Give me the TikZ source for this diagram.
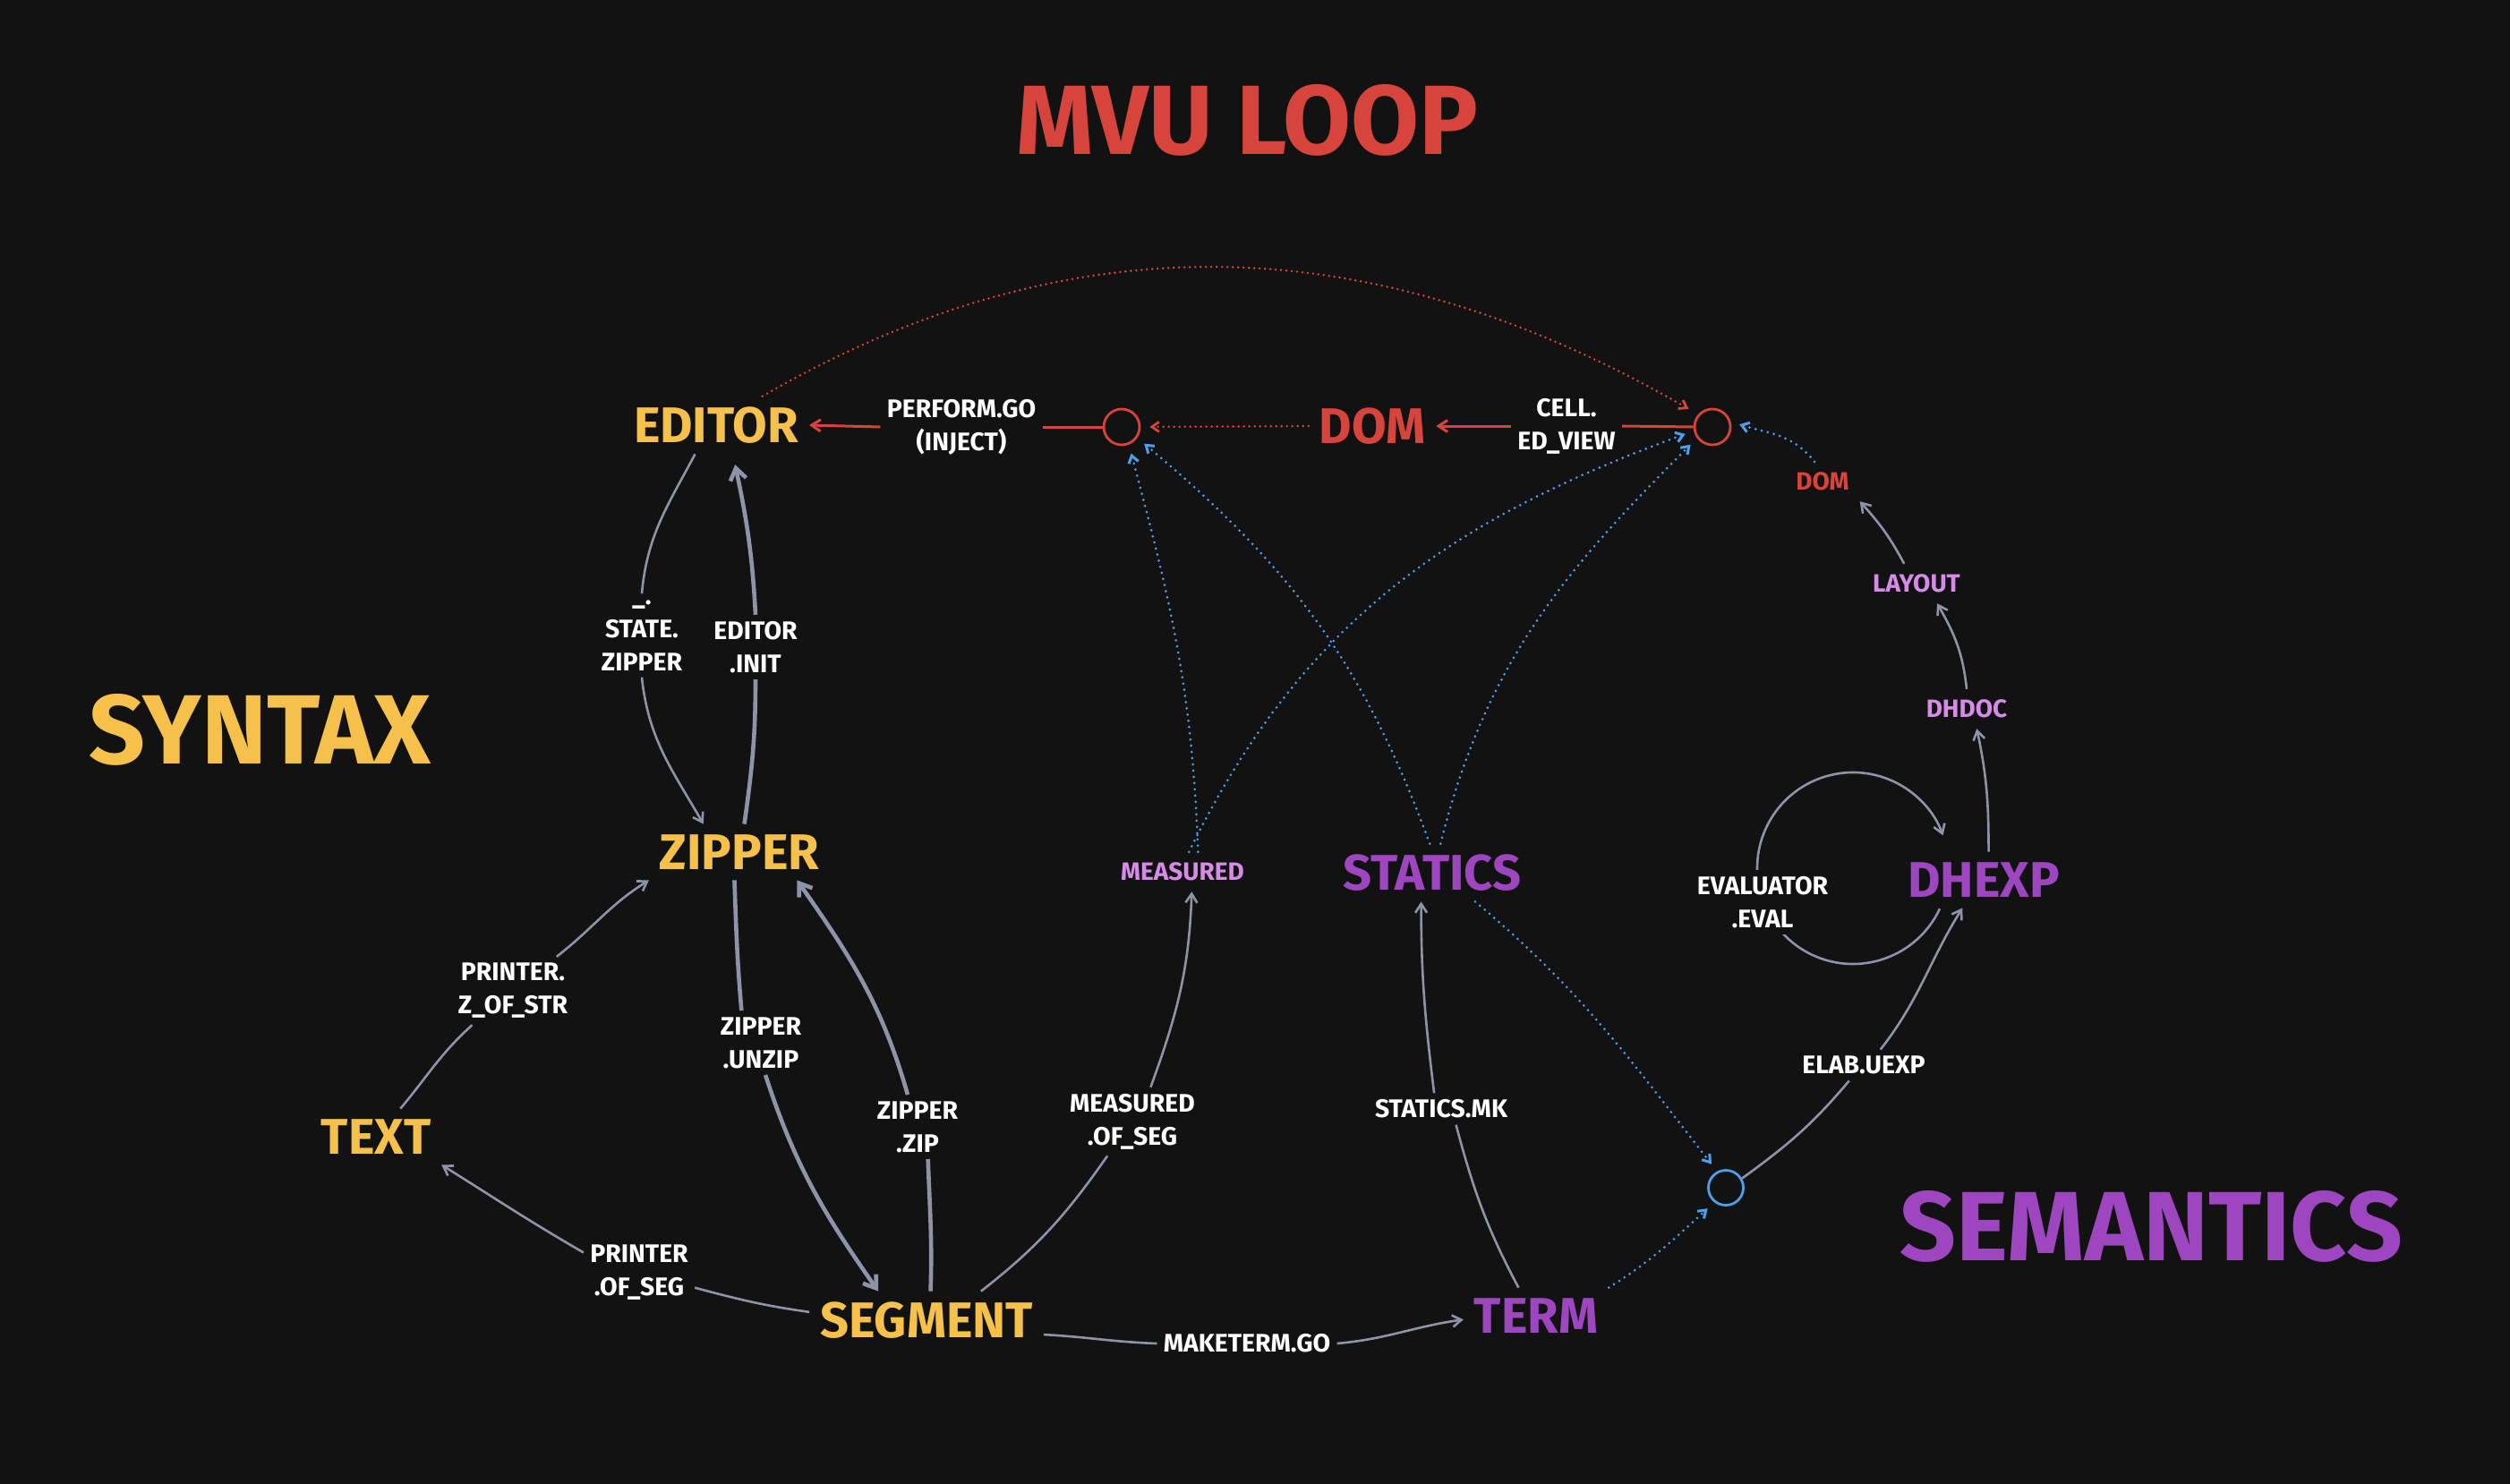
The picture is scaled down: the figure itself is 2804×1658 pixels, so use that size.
\documentclass[tikz,border=0pt]{standalone}
\usepackage{fontspec}
\setmainfont{Fira Sans}
\usetikzlibrary{arrows.meta,calc}

\definecolor{bgcol}{HTML}{121212}
\definecolor{syncol}{HTML}{F5C14B}
\definecolor{mvucol}{HTML}{D7443B}
\definecolor{semcol}{HTML}{9D46C0}
\definecolor{semlite}{HTML}{D68BE6}
\definecolor{edgecol}{HTML}{8E93A8}
\definecolor{wirecol}{HTML}{4D9FEA}

\tikzset{
  title/.style = {font=\fontsize{55}{60}\selectfont\bfseries},
  big/.style = {font=\fontsize{28}{30}\selectfont\bfseries, inner sep=3pt, outer sep=3pt},
  small/.style = {text=semlite, font=\fontsize{14}{16}\selectfont\bfseries, inner sep=3pt, outer sep=3pt},
  lbl/.style = {text=white, align=center, font=\fontsize{14.2}{18.5}\selectfont\bfseries, inner sep=3.5pt},
  hole/.style = {circle, draw, line width=1.4pt, minimum size=20pt, inner sep=0pt},
  tip/.style = {-{Straight Barb[length=5pt,width=6.5pt]}},
  bigtip/.style = {-{Straight Barb[length=6.5pt,width=9pt]}},
  dottip/.style = {-{Straight Barb[length=4pt,width=5.5pt]}},
  gline/.style = {draw=edgecol, line width=1.3pt},
  gthick/.style = {draw=edgecol, line width=2.3pt},
  rline/.style = {draw=mvucol, line width=1.5pt},
  rdot/.style = {draw=mvucol, line width=1.4pt, line cap=round, dash pattern=on 0pt off 3pt},
  bdot/.style = {draw=wirecol, line width=1.5pt, line cap=round, dash pattern=on 0pt off 3.5pt, shorten >=5pt},
}

\begin{document}
\begin{tikzpicture}[x=0.5pt,y=0.5pt]
% canvas
\fill[bgcol] (0,0) rectangle (2804,-1658);
\useasboundingbox (0,0) rectangle (2804,-1658);

% headings
\node[title, text=mvucol] (mvuloop) at (1393,-134) {MVU LOOP};
\node[title, text=syncol] (syntax) at (290,-815) {SYNTAX};
\node[title, text=semcol] (semantics) at (2403,-1370) {SEMANTICS};

% syntax
\node[big, text=syncol] (editor) at (800,-475) {EDITOR};
\node[big, text=syncol] (zipper) at (826,-952) {ZIPPER};
\node[big, text=syncol] (txt) at (420,-1270) {TEXT};
\node[big, text=syncol] (segment) at (1035,-1475) {SEGMENT};

% mvu loop
\node[big, text=mvucol] (dom) at (1533,-476) {DOM};
\node[hole, draw=mvucol] (inject) at (1253,-477) {};
\node[hole, draw=mvucol] (view) at (1913,-477) {};

% semantics
\node[small] (measured) at (1321,-974) {MEASURED};
\node[big, text=semcol] (statics) at (1600,-975) {STATICS};
\node[big, text=semcol] (term) at (1716,-1470) {TERM};
\node[hole, draw=wirecol, minimum size=19.5pt] (elabin) at (1928,-1327) {};
\node[big, text=semcol] (dhexp) at (2216,-983) {DHEXP};
\node[small] (dhdoc) at (2197,-792) {DHDOC};
\node[small] (layout) at (2141,-652) {LAYOUT};
\node[small, text=mvucol] (domsm) at (2036,-538) {DOM};

% edge labels
\node[lbl] (perform) at (1074,-477) {PERFORM.GO\\(INJECT)};
\node[lbl] (cellview) at (1750,-476) {CELL.\\ED\_VIEW};
\node[lbl] (statezip) at (717,-710) {\_.\\STATE.\\ZIPPER};
\node[lbl] (edinit) at (844,-723) {EDITOR\\.INIT};
\node[lbl] (zofstr) at (573,-1107) {PRINTER.\\Z\_OF\_STR};
\node[lbl] (unzip) at (850,-1165) {ZIPPER\\.UNZIP};
\node[lbl] (zip) at (1025,-1259) {ZIPPER\\.ZIP};
\node[lbl] (ofseg) at (714,-1422) {PRINTER\\.OF\_SEG};
\node[lbl] (measofseg) at (1265,-1253) {MEASURED\\.OF\_SEG};
\node[lbl] (maketerm) at (1393,-1501) {MAKETERM.GO};
\node[lbl] (staticsmk) at (1610,-1239) {STATICS.MK};
\node[lbl] (elab) at (2082,-1190) {ELAB.UEXP};

% syntax edges
\draw[gline] (editor.234) to[out=-118,in=85] (statezip.north);
\draw[gline,tip] (statezip.south) to[out=-84,in=120] (zipper.142);
\draw[gthick] (zipper.80) to[out=82,in=-90] (edinit.south);
\draw[gthick,bigtip,shorten >=6pt] (edinit.north) to[out=93,in=-78] (editor.-60);
\draw[gline] (txt.49) to[out=50,in=-138] (zofstr.220);
\draw[gline,tip] (zofstr.38) to[out=38,in=-148] (zipper.south west);
\draw[gline] (segment.176) to[out=172,in=-15] (ofseg.-15);
\draw[gline,tip] (ofseg.160) to[out=150,in=-32] (txt.south east);
\draw[gthick] (zipper.-100) to[out=-88,in=95] (unzip.121);
\draw[gthick,bigtip] (unzip.-82) to[out=-72,in=125] (segment.149);
\draw[gthick] (segment.82) to[out=88,in=-88] (zip.-72);
\draw[gthick,bigtip] (zip.107) to[out=106,in=-55] (zipper.-26);

% segment to semantics
\draw[gline] (segment.28) to[out=38,in=-125] (measofseg.234);
\draw[gline,tip] (measofseg.62) to[out=70,in=-92] (measured.-65);
\draw[gline] (segment.-7) to[out=-3,in=178] (maketerm.west);
\draw[gline,tip] (maketerm.east) to[out=5,in=-172] (term.183);
\draw[gline] (term.122) to[out=118,in=-75] (staticsmk.-47);
\draw[gline,tip] (staticsmk.114) to[out=97,in=-90] (statics.-111);
\draw[bdot,dottip] (statics.-34) to[out=-40,in=128] (elabin.118);
\draw[bdot,dottip] (term.north east) to[out=32,in=-138] (elabin.232);
\draw[gline] (elabin.30) to[out=36,in=-130] (elab.227);
\draw[gline,tip] (elab.43) to[out=52,in=-122] (dhexp.-127);

% evaluator loop
\coordinate (loopc) at (2070,-970);
\draw[gline,tip] ($(loopc)+(-25:107)$) arc[start angle=-25,end angle=-340,radius=107];
\node[lbl, fill=bgcol] (evaluator) at (1969,-1008) {EVALUATOR\\.EVAL};

% up to the view
\draw[gline,tip] (dhexp.80) to[out=90,in=-78] (dhdoc.-63);
\draw[gline,tip] (dhdoc.north) to[out=96,in=-60] (layout.-44);
\draw[gline,tip] (layout.122) to[out=118,in=-48] (domsm.south east);
\draw[bdot,dottip] (domsm.112) to[out=128,in=-18] (view.16);

% wires into the holes
\draw[bdot,dottip] (measured.52) to[out=92,in=-75] (inject.-68);
\draw[bdot,dottip] (measured.72) to[out=64,in=-160] (view.192);
\draw[bdot,dottip] (statics.95) to[out=110,in=-40] (inject.-35);
\draw[bdot,dottip] (statics.74) to[out=76,in=-135] (view.216);

% mvu loop
\draw[rline] (view.west) -- (cellview.east);
\draw[rline,tip] (cellview.west) -- (dom.east);
\draw[rdot,dottip,shorten >=5pt] (dom.west) -- (inject.east);
\draw[rline] (inject.west) -- (perform.east);
\draw[rline,tip] (perform.west) -- (editor.east);
\draw[rdot,dottip,shorten >=6pt] (editor.32) to[out=30,in=150] (view.139);
\end{tikzpicture}
\end{document}
